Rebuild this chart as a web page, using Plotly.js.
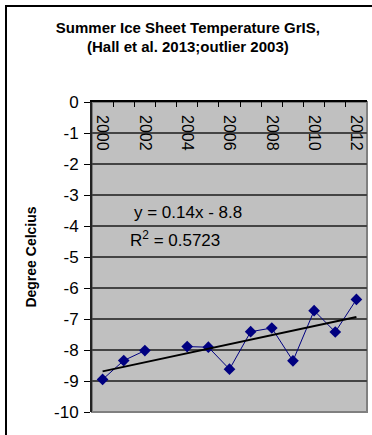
<!DOCTYPE html>
<html>
<head>
<meta charset="utf-8">
<script src="https://cdn.plot.ly/plotly-3.0.1.min.js"></script>
<style>
  html, body { margin: 0; padding: 0; background: #fff; overflow: hidden; }
  #chart { width: 372px; height: 435px; }
</style>
</head>
<body>
<div id="chart"></div>
<script>
// Data (2003 omitted as outlier)
const years = [2000, 2001, 2002, 2003, 2004, 2005, 2006, 2007, 2008, 2009, 2010, 2011, 2012];
const temps = [-8.95, -8.34, -8.02, null, -7.89, -7.91, -8.62, -7.41, -7.29, -8.35, -6.73, -7.42, -6.37];
const yearLabels = ['2000', '2002', '2004', '2006', '2008', '2010', '2012'];
const yTicks = [0, -1, -2, -3, -4, -5, -6, -7, -8, -9, -10];
const eqText = 'y = 0.14x - 8.8';
const r2Text = 'R<sup>2</sup> = 0.5723';

// Linear trend (Excel style: x = 1..n index)
const idx = years.map((_, i) => i + 1);
const pts = idx.map((x, i) => [x, temps[i]]).filter(p => p[1] !== null);
const n = pts.length;
const mx = pts.reduce((s, p) => s + p[0], 0) / n;
const my = pts.reduce((s, p) => s + p[1], 0) / n;
let sxy = 0, sxx = 0;
pts.forEach(p => { sxy += (p[0] - mx) * (p[1] - my); sxx += (p[0] - mx) ** 2; });
const slope = sxy / sxx, icpt = my - slope * mx;
const trendX = [years[0], years[years.length - 1]];
const trendY = [slope * idx[0] + icpt, slope * idx[idx.length - 1] + icpt];

const boundaries = years.slice(1).map(y => y - 0.5);
const FONT = 'Arial, Liberation Sans, sans-serif';

// plot area geometry (px) used to place the outer chart frame
const M = { l: 92, r: 5, t: 102, b: 23 };
const W = 372, H = 435;
const pw = W - M.l - M.r, ph = H - M.t - M.b;
const px2x = p => (p - M.l) / pw;
const py2y = p => (H - M.b - p) / ph;

const traces = [
  { x: years, y: temps, type: 'scatter', mode: 'lines+markers',
    line: { color: '#000080', width: 1 },
    marker: { symbol: 'diamond', size: 9, color: '#000080' },
    connectgaps: false, hoverinfo: 'none' },
  { x: trendX, y: trendY, type: 'scatter', mode: 'lines',
    line: { color: '#000000', width: 2 }, hoverinfo: 'none' },
  { x: [years[0]], y: [0], xaxis: 'x2', type: 'scatter', mode: 'markers',
    marker: { opacity: 0 }, hoverinfo: 'none' }
];

const layout = {
  width: W, height: H,
  margin: M,
  paper_bgcolor: '#ffffff',
  plot_bgcolor: '#c0c0c0',
  showlegend: false,
  font: { family: FONT, color: '#000' },
  title: {
    text: '<b>Summer Ice Sheet Temperature GrIS,<br>(Hall et al. 2013;outlier 2003)</b>',
    font: { family: FONT, size: 15, color: '#000' },
    x: 0.505, xref: 'container', xanchor: 'center',
    y: 0.925, yref: 'container', yanchor: 'top'
  },
  xaxis: {
    range: [1999.5, 2012.5], side: 'bottom', anchor: 'free', position: 0.9613,
    tickmode: 'array', tickvals: yearLabels.map(Number), ticktext: yearLabels,
    ticks: '', tickangle: 90,
    tickfont: { size: 16, family: FONT, color: '#000' },
    showgrid: false, zeroline: false, showline: false
  },
  xaxis2: {
    overlaying: 'x', range: [1999.5, 2012.5], side: 'top', anchor: 'y',
    tickmode: 'array', tickvals: boundaries, showticklabels: false,
    ticks: 'inside', ticklen: 5, tickwidth: 1, tickcolor: '#000',
    showgrid: false, zeroline: false, showline: true, linecolor: '#000', linewidth: 2
  },
  yaxis: {
    range: [-10, 0], tickmode: 'array', tickvals: yTicks, ticktext: yTicks.map(String),
    ticks: 'outside', ticklen: 6, tickwidth: 1, tickcolor: '#000',
    ticklabelstandoff: 2,
    tickfont: { size: 17, family: FONT, color: '#000' },
    showgrid: true, gridcolor: '#444', gridwidth: 2,
    zeroline: false, showline: true, linecolor: '#222', linewidth: 2,
    title: { text: '<b>Degree Celcius</b>', standoff: 14,
      font: { size: 14, family: FONT, color: '#000' } }
  },
  shapes: [
    { type: 'rect', xref: 'paper', yref: 'paper', x0: 0, x1: 1, y0: 0, y1: 1,
      line: { color: '#808080', width: 2 }, layer: 'below' },
    { type: 'rect', xref: 'paper', yref: 'paper',
      x0: px2x(6), x1: px2x(W + 20), y0: py2y(H + 20), y1: py2y(6),
      line: { color: '#000', width: 2 }, layer: 'above' }
  ],
  annotations: [
    { x: 2004.04, y: -3.58, xref: 'x', yref: 'y', text: eqText, showarrow: false,
      font: { size: 17, family: FONT, color: '#000' } },
    { x: 2003.42, y: -4.42, xref: 'x', yref: 'y', text: r2Text, showarrow: false,
      font: { size: 17, family: FONT, color: '#000' } }
  ]
};

Plotly.newPlot('chart', traces, layout, { staticPlot: true, displayModeBar: false });
</script>
</body>
</html>
